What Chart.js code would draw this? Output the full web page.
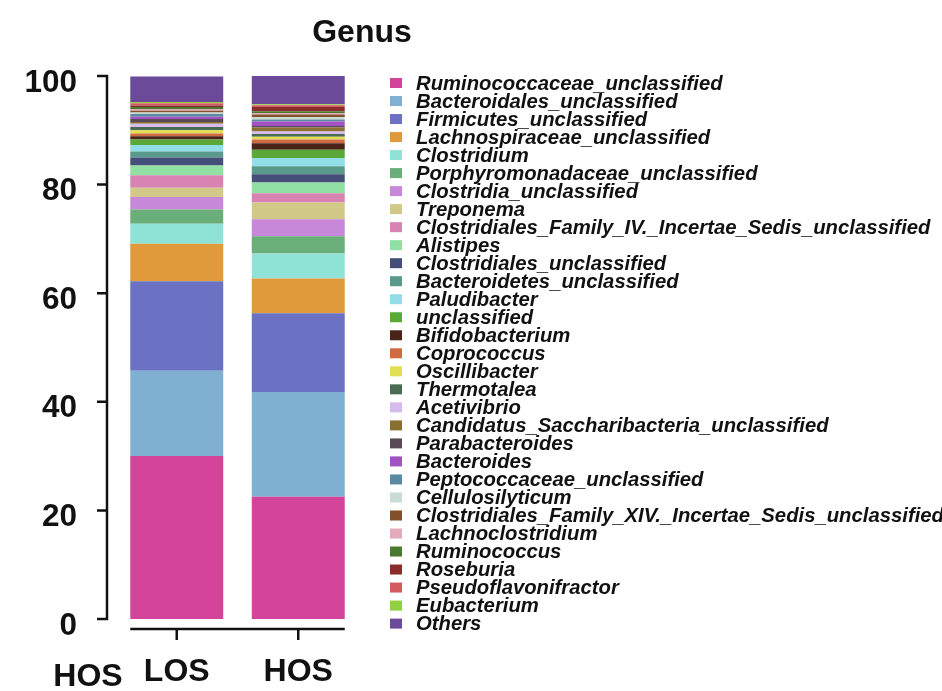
<!DOCTYPE html>
<html>
<head>
<meta charset="utf-8">
<title>Genus</title>
<style>
  html, body { margin: 0; padding: 0; background: #fff; overflow: hidden; }
  #wrap { position: relative; width: 942px; height: 691px; }
</style>
<script src="https://cdn.jsdelivr.net/npm/chart.js@4.4.0/dist/chart.umd.min.js"></script>
</head>
<body>
<div id="wrap"><canvas id="genus-chart"></canvas></div>
<script>
// ── Data (relative abundance, %) ─────────────────────────────────────
var groups = ['LOS', 'HOS'];
var yTicks = [0, 20, 40, 60, 80, 100];

var genera = [
  'Ruminococcaceae_unclassified', 'Bacteroidales_unclassified', 'Firmicutes_unclassified',
  'Lachnospiraceae_unclassified', 'Clostridium', 'Porphyromonadaceae_unclassified',
  'Clostridia_unclassified', 'Treponema', 'Clostridiales_Family_IV._Incertae_Sedis_unclassified',
  'Alistipes', 'Clostridiales_unclassified', 'Bacteroidetes_unclassified', 'Paludibacter',
  'unclassified', 'Bifidobacterium', 'Coprococcus', 'Oscillibacter', 'Thermotalea',
  'Acetivibrio', 'Candidatus_Saccharibacteria_unclassified', 'Parabacteroides', 'Bacteroides',
  'Peptococcaceae_unclassified', 'Cellulosilyticum', 'Clostridiales_Family_XIV._Incertae_Sedis_unclassified',
  'Lachnoclostridium', 'Ruminococcus', 'Roseburia', 'Pseudoflavonifractor', 'Eubacterium', 'Others'
];

var losValues = [
  30.0, 15.7, 16.5, 6.9, 3.7, 2.6, 2.3, 1.7, 2.3, 1.8,
  1.5, 1.1, 1.2, 1.0, 0.6, 0.5, 0.6, 0.6, 0.6, 0.35,
  0.55, 0.4, 0.5, 0.3, 0.3, 0.3, 0.4, 0.25, 0.45, 0.2, 4.7
];

var hosValues = [
  22.5, 19.3, 14.5, 6.4, 4.6, 3.2, 3.1, 3.1, 1.7, 2.0,
  1.5, 1.5, 1.5, 1.5, 1.2, 0.7, 0.5, 0.5, 0.5, 0.7,
  0.3, 0.8, 0.4, 0.4, 0.5, 0.3, 0.3, 0.8, 0.3, 0.2, 5.2
];

var genusColors = [
  '#d4449a', '#7fb0d2', '#6b72c4', '#e09a3c', '#8ee2d6', '#6aae7a',
  '#c888da', '#d2c888', '#d884b2', '#8fe0a2', '#454e78', '#5a9a8c',
  '#92dee8', '#5aa838', '#4a2418', '#d06a40', '#e2e052', '#4a6a52',
  '#d6bcee', '#8a7030', '#5a4a58', '#a252c2', '#5a8aa2', '#c8dcd4',
  '#84502a', '#e2aabb', '#4a7a30', '#8a2c2c', '#d45a62', '#92d042', '#6b4a9a'
];

var FONT = '"Liberation Sans", Arial, Helvetica, sans-serif';
var INK = '#111111';

// ── Plugin: detached axes, title, stray label and the side legend ────
var framePlugin = {
  id: 'frame',
  afterDraw: function (chart) {
    var ctx = chart.ctx;
    var area = chart.chartArea;
    var ys = chart.scales.y;
    var meta = chart.getDatasetMeta(0);
    ctx.save();
    ctx.strokeStyle = INK;
    ctx.lineWidth = 2.5;
    ctx.lineCap = 'butt';

    // y axis sits a little left of the bars
    var ax = area.left - 9;
    ctx.beginPath();
    ctx.moveTo(ax, ys.getPixelForValue(100) - 1.2);
    ctx.lineTo(ax, ys.getPixelForValue(0) + 1.2);
    yTicks.forEach(function (v) {
      var py = ys.getPixelForValue(v);
      ctx.moveTo(ax - 10, py);
      ctx.lineTo(ax + 1.2, py);
    });
    ctx.stroke();

    // x axis spans the outer edges of the bars, just under them
    var first = meta.data[0], last = meta.data[meta.data.length - 1];
    var ay = area.bottom + 10;
    ctx.beginPath();
    ctx.moveTo(first.x - first.width / 2, ay);
    ctx.lineTo(last.x + last.width / 2, ay);
    meta.data.forEach(function (bar) {
      ctx.moveTo(bar.x, ay);
      ctx.lineTo(bar.x, ay + 11);
    });
    ctx.stroke();

    // title and the leftover group label
    ctx.fillStyle = INK;
    ctx.textAlign = 'center';
    ctx.textBaseline = 'middle';
    ctx.font = 'bold 32px ' + FONT;
    ctx.fillText('Genus', 362, 33);
    ctx.fillText('HOS', 88, 677);

    // legend, one tight row per genus
    ctx.textAlign = 'left';
    ctx.font = 'italic bold 20.3px ' + FONT;
    chart.data.datasets.forEach(function (ds, i) {
      var ry = 83 + i * 18.02;
      ctx.fillStyle = ds.backgroundColor;
      ctx.fillRect(390, ry - 5, 12, 10);
      ctx.fillStyle = INK;
      ctx.fillText(ds.label, 416, ry + 1);
    });
    ctx.restore();
  }
};

var datasets = genera.map(function (name, i) {
  return {
    label: name,
    data: [losValues[i], hosValues[i]],
    backgroundColor: genusColors[i],
    borderWidth: 0,
    barPercentage: 0.765,
    categoryPercentage: 1,
    stack: 'genus'
  };
});

Chart.defaults.font.family = FONT;
Chart.defaults.color = INK;

new Chart(document.getElementById('genus-chart'), {
  type: 'bar',
  data: { labels: groups, datasets: datasets },
  options: {
    responsive: true,
    maintainAspectRatio: false,
    animation: false,
    layout: { padding: { top: 76, right: 583, bottom: 0, left: 0 } },
    plugins: {
      legend: { display: false },
      title: { display: false },
      tooltip: { enabled: false }
    },
    scales: {
      x: {
        stacked: true,
        grid: { display: false, drawTicks: false },
        border: { display: false },
        ticks: { color: INK, padding: 34, font: { size: 32, weight: 'bold' } },
        afterFit: function (scale) { scale.height = 72; }
      },
      y: {
        stacked: true,
        min: 0,
        max: 100,
        grid: { display: false, drawTicks: false },
        border: { display: false },
        ticks: {
          stepSize: 20,
          color: INK,
          padding: 39,
          labelOffset: 7,
          font: { size: 31.5, weight: 'bold' }
        },
        afterFit: function (scale) { scale.width = 116; }
      }
    }
  },
  plugins: [framePlugin]
});
</script>
</body>
</html>
